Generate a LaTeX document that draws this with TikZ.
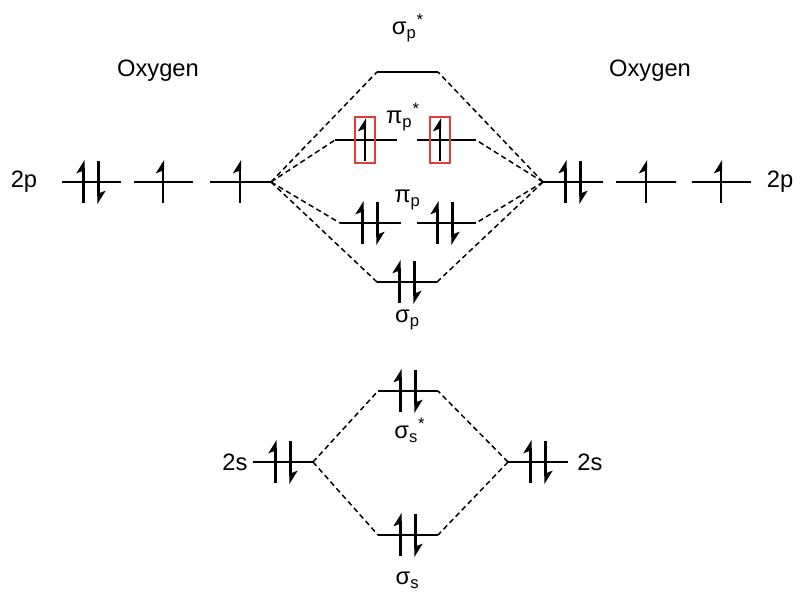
\documentclass[tikz,border=0pt]{standalone}
\usepackage{fontspec}
\setmainfont{Liberation Sans}
\usetikzlibrary{arrows.meta}

\definecolor{boxred}{RGB}{225,60,60}

\newcommand{\lev}[4]{\draw[level] (#2,#4) coordinate (#1-l) -- (#3,#4) coordinate (#1-r);}
\newcommand{\elup}[2]{\draw[elec] (#1,#2+21) -- (#1,#2-22);}
\newcommand{\eldown}[2]{\draw[elec] (#1,#2-21) -- (#1,#2+22);}
\newcommand{\elpair}[2]{\elup{#1-7.5}{#2}\eldown{#1+7.5}{#2}}
\newcommand{\orb}[3]{#1\textsubscript{#2}\textsuperscript{#3}}

\begin{document}
\begin{tikzpicture}[x=0.02cm, y=-0.02cm,
    font=\fontsize{13.5}{16}\selectfont,
    level/.style={line width=1.4pt},
    elec/.style={line width=1.6pt, -{Stealth[harpoon, length=6.5pt, width=8pt, inset=1.5pt]}},
    mix/.style={line width=0.85pt, dash pattern=on 3pt off 2pt},
    spinbox/.style={draw=boxred, line width=0.7pt, minimum width=0.4cm, minimum height=0.92cm, inner sep=0pt}]
    \useasboundingbox (0,0) rectangle (800,595);

    % atomic levels
    \node (oxL) at (158,71) {Oxygen};
    \node (oxR) at (650,71) {Oxygen};
    \node (p2L) at (24,182) {2p};
    \node (p2R) at (780,182) {2p};
    \node (s2L) at (235,462) {2s};
    \node (s2R) at (590,462) {2s};
    \lev{a1}{62}{121}{182} \lev{a2}{134}{193}{182} \lev{a3}{210}{271}{182}
    \lev{b1}{543}{603}{182} \lev{b2}{616}{676}{182} \lev{b3}{692}{751}{182}
    \lev{as}{253}{313}{462} \lev{bs}{508}{568}{462}
    \elpair{91}{182} \elup{163}{182} \elup{240}{182}
    \elpair{573}{182} \elup{646}{182} \elup{721}{182}
    \elpair{283}{462} \elpair{538}{462}

    % molecular levels
    \node (lsps) at (408,28) {\orb{σ}{p}{*}};
    \node (lpis) at (403,117) {\orb{π}{p}{*}};
    \node (lpi) at (408,200) {\orb{π}{p}{}};
    \node (lsp) at (408,320) {\orb{σ}{p}{}};
    \node (lsss) at (410,430) {\orb{σ}{s}{*}};
    \node (lss) at (408,580) {\orb{σ}{s}{}};
    \lev{sps}{377}{438}{72}
    \lev{pis1}{335}{397}{140} \lev{pis2}{417}{476}{140}
    \lev{pi1}{340}{401}{223} \lev{pi2}{417}{476}{223}
    \lev{sp}{377}{437}{282}
    \lev{sss}{378}{438}{391}
    \lev{ss}{378}{438}{535}
    \elup{365}{140} \elup{440}{140}
    \node[spinbox] (box1) at (365,140) {};
    \node[spinbox] (box2) at (440,140) {};
    \elpair{370}{223} \elpair{445}{223}
    \elpair{407}{282}
    \elpair{408}{391}
    \elpair{408}{535}

    % correlation lines
    \foreach \m in {sps,pis1,pi1,sp} \draw[mix] (a3-r) -- (\m-l);
    \foreach \m in {sps,pis2,pi2,sp} \draw[mix] (b1-l) -- (\m-r);
    \foreach \m in {sss,ss} {
        \draw[mix] (as-r) -- (\m-l);
        \draw[mix] (bs-l) -- (\m-r);
    }
\end{tikzpicture}
\end{document}
